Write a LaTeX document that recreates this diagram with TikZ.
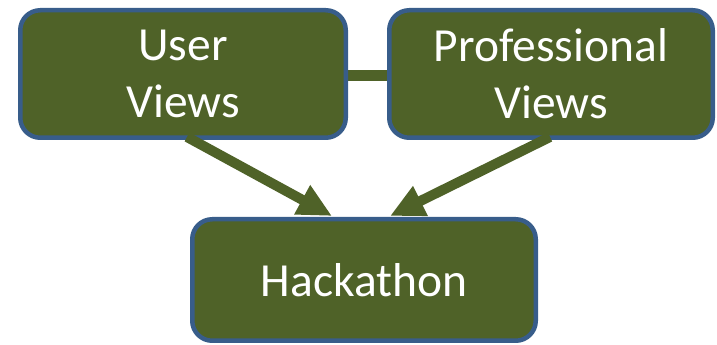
\documentclass[tikz,border=0pt]{standalone}
\usepackage{fontspec}
\setmainfont{Carlito}
\usetikzlibrary{arrows.meta,backgrounds}
\definecolor{boxfill}{RGB}{79,98,40}
\definecolor{boxline}{RGB}{56,93,138}
\tikzset{
  gbox/.style={draw=boxline, fill=boxfill, line width=4.5pt, rounded corners=20pt,
    text=white, align=center, inner sep=0pt,
    font=\fontsize{47.5}{57}\selectfont},
  link/.style={draw=boxfill, line width=11pt},
  flow/.style={draw=boxfill, line width=10pt,
    -{Triangle[width=31pt,length=34pt]}, fill=boxfill},
}
\begin{document}
\begin{tikzpicture}[x=1pt,y=1pt]
\useasboundingbox (0,0) rectangle (717,345);
\node[gbox, minimum width=325.5pt, minimum height=127.5pt] (uv) at (183,271) {User\\Views};
\node[gbox, minimum width=323.5pt, minimum height=127.5pt] (pv) at (551,271) {Professional\\Views};
\node[gbox, minimum width=343.5pt, minimum height=121.5pt] (hk) at (364,65) {Hackathon};
\begin{scope}[on background layer]
  \draw[link] ([yshift=-2pt]uv.east) -- ([yshift=-2pt]pv.west);
\end{scope}
\draw[flow] ([xshift=4pt,yshift=3pt]uv.south) -- ([xshift=-32pt,yshift=1pt]hk.north);
\draw[flow] ([xshift=-1pt,yshift=3pt]pv.south) -- ([xshift=26pt,yshift=1pt]hk.north);
\end{tikzpicture}
\end{document}
